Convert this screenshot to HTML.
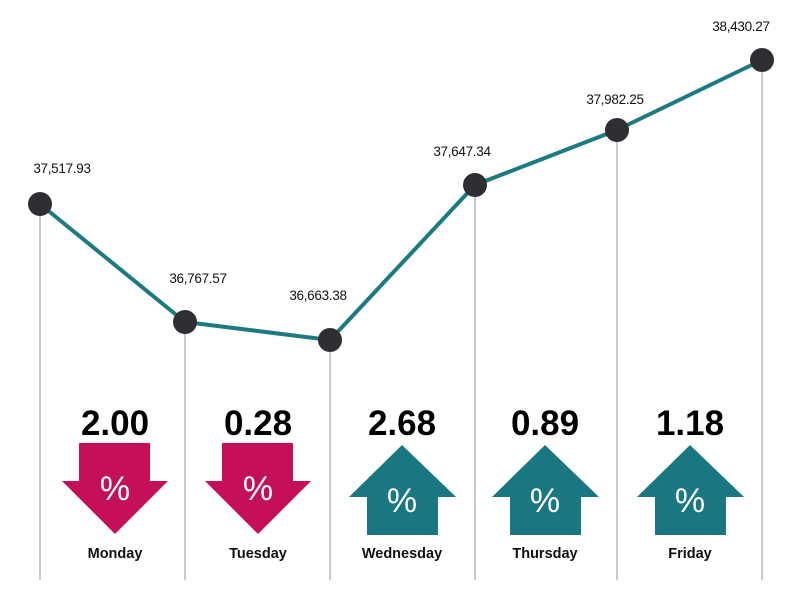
<!DOCTYPE html>
<html><head><style>body{margin:0;background:#fff}</style></head><body>
<svg width="800" height="600" xmlns="http://www.w3.org/2000/svg" font-family="Liberation Sans, sans-serif">
<rect width="800" height="600" fill="#fff"/>
<g stroke="#b8b8b8" stroke-width="1.5">
<line x1="40" y1="204" x2="40" y2="580"/><line x1="185" y1="322" x2="185" y2="580"/>
<line x1="330" y1="340" x2="330" y2="580"/><line x1="475" y1="185" x2="475" y2="580"/>
<line x1="617" y1="130" x2="617" y2="580"/><line x1="762" y1="60" x2="762" y2="580"/>
</g>
<polyline points="40,204 185,322 330,340 475,185 617,130 762,60" fill="none" stroke="#1d7a82" stroke-width="4"/>
<g fill="#2e2f33"><circle cx="40" cy="204" r="12"/><circle cx="185" cy="322" r="12"/><circle cx="330" cy="340" r="12"/><circle cx="475" cy="185" r="12"/><circle cx="617" cy="130" r="12"/><circle cx="762" cy="60" r="12"/></g>
<g font-size="13.5" fill="#111" text-anchor="middle" letter-spacing="-0.3">
<text x="62" y="173">37,517.93</text><text x="198" y="283">36,767.57</text><text x="318" y="300">36,663.38</text>
<text x="462" y="156">37,647.34</text><text x="615" y="104">37,982.25</text><text x="741" y="31">38,430.27</text>
</g>
<g font-size="35" font-weight="bold" fill="#000" text-anchor="middle">
<text x="115" y="435">2.00</text><text x="258" y="435">0.28</text><text x="402" y="435">2.68</text><text x="545" y="435">0.89</text><text x="690" y="435">1.18</text>
</g>
<g fill="#c40f5b">
<polygon points="79,443 150,443 150,481 168,481 115,534 62,481 79,481"/>
<polygon points="222,443 293,443 293,481 311,481 258,534 205,481 222,481"/>
</g>
<g fill="#1a7680">
<polygon points="402,445 456,497 438,497 438,535 367,535 367,497 349,497"/>
<polygon points="545,445 599,497 581,497 581,535 510,535 510,497 492,497"/>
<polygon points="690,445 744,497 726,497 726,535 655,535 655,497 637,497"/>
</g>
<g font-size="34" fill="#fff" text-anchor="middle">
<text x="115" y="500">%</text><text x="258" y="500">%</text><text x="402" y="512">%</text><text x="545" y="512">%</text><text x="690" y="512">%</text>
</g>
<g font-size="14.5" font-weight="bold" fill="#111" text-anchor="middle">
<text x="115" y="558">Monday</text><text x="258" y="558">Tuesday</text><text x="402" y="558">Wednesday</text><text x="545" y="558">Thursday</text><text x="690" y="558">Friday</text>
</g>
</svg>
</body></html>
